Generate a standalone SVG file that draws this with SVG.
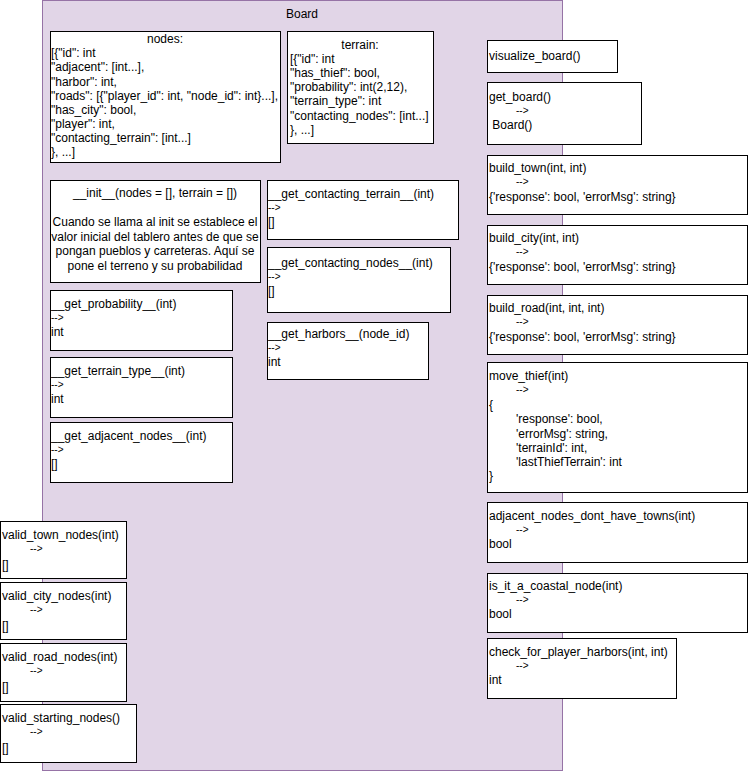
<svg xmlns="http://www.w3.org/2000/svg" width="748" height="772" viewBox="0 0 748 772">
<style>
.board{fill:#e1d5e7;stroke:#9673a6;stroke-width:1}
.box{fill:#ffffff;stroke:#000000;stroke-width:1}
text{font-family:"Liberation Sans",Arial,Helvetica,sans-serif;font-size:12px;fill:#000000}
.a{font-size:10px}
.c{text-anchor:middle}
</style>
<rect width="748" height="772" fill="#ffffff"/>
<g id="board">
<rect class="board" x="42.5" y="0.5" width="520" height="770"/>
<text class="c" x="302" y="18">Board</text>
</g>
<g id="connectors"></g>
<g id="nodes">
<rect class="box" x="50.5" y="31.5" width="230" height="131"/>
<text class="c" x="165" y="43">nodes:</text>
<text x="51" y="57">[{"id": int</text>
<text x="51" y="71">"adjacent": [int...],</text>
<text x="51" y="86">"harbor": int,</text>
<text x="51" y="100">"roads": [{"player_id": int, "node_id": int}...],</text>
<text x="51" y="114">"has_city": bool,</text>
<text x="51" y="128">"player": int,</text>
<text x="51" y="142">"contacting_terrain": [int...]</text>
<text x="51" y="156">}, ...]</text>
</g>
<g id="terrain">
<rect class="box" x="287.5" y="31.5" width="146" height="112"/>
<text class="c" x="360" y="49">terrain:</text>
<text x="290" y="63">[{"id": int</text>
<text x="290" y="77">"has_thief": bool,</text>
<text x="290" y="91">"probability": int(2,12),</text>
<text x="290" y="105">"terrain_type": int</text>
<text x="290" y="120">"contacting_nodes": [int...]</text>
<text x="290" y="134">}, ...]</text>
</g>
<g id="init">
<rect class="box" x="50.5" y="180.5" width="210" height="102"/>
<text class="c" x="155" y="197">__init__(nodes = [], terrain = [])</text>
<text class="c" x="155" y="226">Cuando se llama al init se establece el</text>
<text class="c" x="155" y="241">valor inicial del tablero antes de que se</text>
<text class="c" x="155" y="255">pongan pueblos y carreteras. Aquí se</text>
<text class="c" x="155" y="270">pone el terreno y su probabilidad</text>
</g>
<g id="get_contacting_terrain">
<rect class="box" x="267.5" y="180.5" width="191" height="59"/>
<text x="268" y="198">__get_contacting_terrain__(int)</text>
<text class="a" x="268" y="211">--&gt;</text>
<text x="268" y="226">[]</text>
</g>
<g id="get_contacting_nodes">
<rect class="box" x="267.5" y="247.5" width="183" height="65"/>
<text x="268" y="267">__get_contacting_nodes__(int)</text>
<text class="a" x="268" y="280">--&gt;</text>
<text x="268" y="295">[]</text>
</g>
<g id="get_harbors">
<rect class="box" x="267.5" y="322.5" width="161" height="57"/>
<text x="268" y="338">__get_harbors__(node_id)</text>
<text class="a" x="268" y="351">--&gt;</text>
<text x="268" y="366">int</text>
</g>
<g id="get_probability">
<rect class="box" x="50.5" y="290.5" width="182" height="60"/>
<text x="51" y="308">__get_probability__(int)</text>
<text class="a" x="51" y="321">--&gt;</text>
<text x="51" y="336">int</text>
</g>
<g id="get_terrain_type">
<rect class="box" x="50.5" y="357.5" width="182" height="60"/>
<text x="51" y="375">__get_terrain_type__(int)</text>
<text class="a" x="51" y="388">--&gt;</text>
<text x="51" y="403">int</text>
</g>
<g id="get_adjacent_nodes">
<rect class="box" x="50.5" y="422.5" width="182" height="60"/>
<text x="51" y="440">__get_adjacent_nodes__(int)</text>
<text class="a" x="51" y="453">--&gt;</text>
<text x="51" y="468">[]</text>
</g>
<g id="visualize_board">
<rect class="box" x="487.5" y="40.5" width="130" height="32"/>
<text x="489" y="60">visualize_board()</text>
</g>
<g id="get_board">
<rect class="box" x="487.5" y="82.5" width="154" height="62"/>
<text x="489" y="101">get_board()</text>
<text class="a" x="516" y="114">--&gt;</text>
<text x="489" y="129" xml:space="preserve"> Board()</text>
</g>
<g id="build_town">
<rect class="box" x="487.5" y="155.5" width="260" height="59"/>
<text x="489" y="172">build_town(int, int)</text>
<text class="a" x="516" y="185">--&gt;</text>
<text x="489" y="201">{'response': bool, 'errorMsg': string}</text>
</g>
<g id="build_city">
<rect class="box" x="487.5" y="225.5" width="260" height="59"/>
<text x="489" y="242">build_city(int, int)</text>
<text class="a" x="516" y="255">--&gt;</text>
<text x="489" y="271">{'response': bool, 'errorMsg': string}</text>
</g>
<g id="build_road">
<rect class="box" x="487.5" y="295.5" width="260" height="59"/>
<text x="489" y="312">build_road(int, int, int)</text>
<text class="a" x="516" y="325">--&gt;</text>
<text x="489" y="341">{'response': bool, 'errorMsg': string}</text>
</g>
<g id="move_thief">
<rect class="box" x="487.5" y="362.5" width="260" height="130"/>
<text x="489" y="380">move_thief(int)</text>
<text class="a" x="516" y="393">--&gt;</text>
<text x="489" y="409">{</text>
<text x="516" y="423">'response': bool,</text>
<text x="516" y="438">'errorMsg': string,</text>
<text x="516" y="452">'terrainId': int,</text>
<text x="516" y="466">'lastThiefTerrain': int</text>
<text x="489" y="480">}</text>
</g>
<g id="adjacent_nodes_dont_have_towns">
<rect class="box" x="487.5" y="502.5" width="260" height="60"/>
<text x="489" y="520">adjacent_nodes_dont_have_towns(int)</text>
<text class="a" x="516" y="533">--&gt;</text>
<text x="489" y="548">bool</text>
</g>
<g id="is_it_a_coastal_node">
<rect class="box" x="487.5" y="573.5" width="260" height="59"/>
<text x="489" y="590">is_it_a_coastal_node(int)</text>
<text class="a" x="516" y="603">--&gt;</text>
<text x="489" y="618">bool</text>
</g>
<g id="check_for_player_harbors">
<rect class="box" x="487.5" y="638.5" width="189" height="60"/>
<text x="489" y="656">check_for_player_harbors(int, int)</text>
<text class="a" x="516" y="669">--&gt;</text>
<text x="489" y="684">int</text>
</g>
<g id="valid_town_nodes">
<rect class="box" x="0.5" y="521.5" width="126" height="57"/>
<text x="2" y="539">valid_town_nodes(int)</text>
<text class="a" x="30" y="552">--&gt;</text>
<text x="2" y="569">[]</text>
</g>
<g id="valid_city_nodes">
<rect class="box" x="0.5" y="582.5" width="126" height="57"/>
<text x="2" y="600">valid_city_nodes(int)</text>
<text class="a" x="30" y="613">--&gt;</text>
<text x="2" y="630">[]</text>
</g>
<g id="valid_road_nodes">
<rect class="box" x="0.5" y="643.5" width="126" height="58"/>
<text x="2" y="661">valid_road_nodes(int)</text>
<text class="a" x="30" y="674">--&gt;</text>
<text x="2" y="691">[]</text>
</g>
<g id="valid_starting_nodes">
<rect class="box" x="0.5" y="704.5" width="136" height="58"/>
<text x="2" y="722">valid_starting_nodes()</text>
<text class="a" x="30" y="735">--&gt;</text>
<text x="2" y="752">[]</text>
</g>
</svg>
